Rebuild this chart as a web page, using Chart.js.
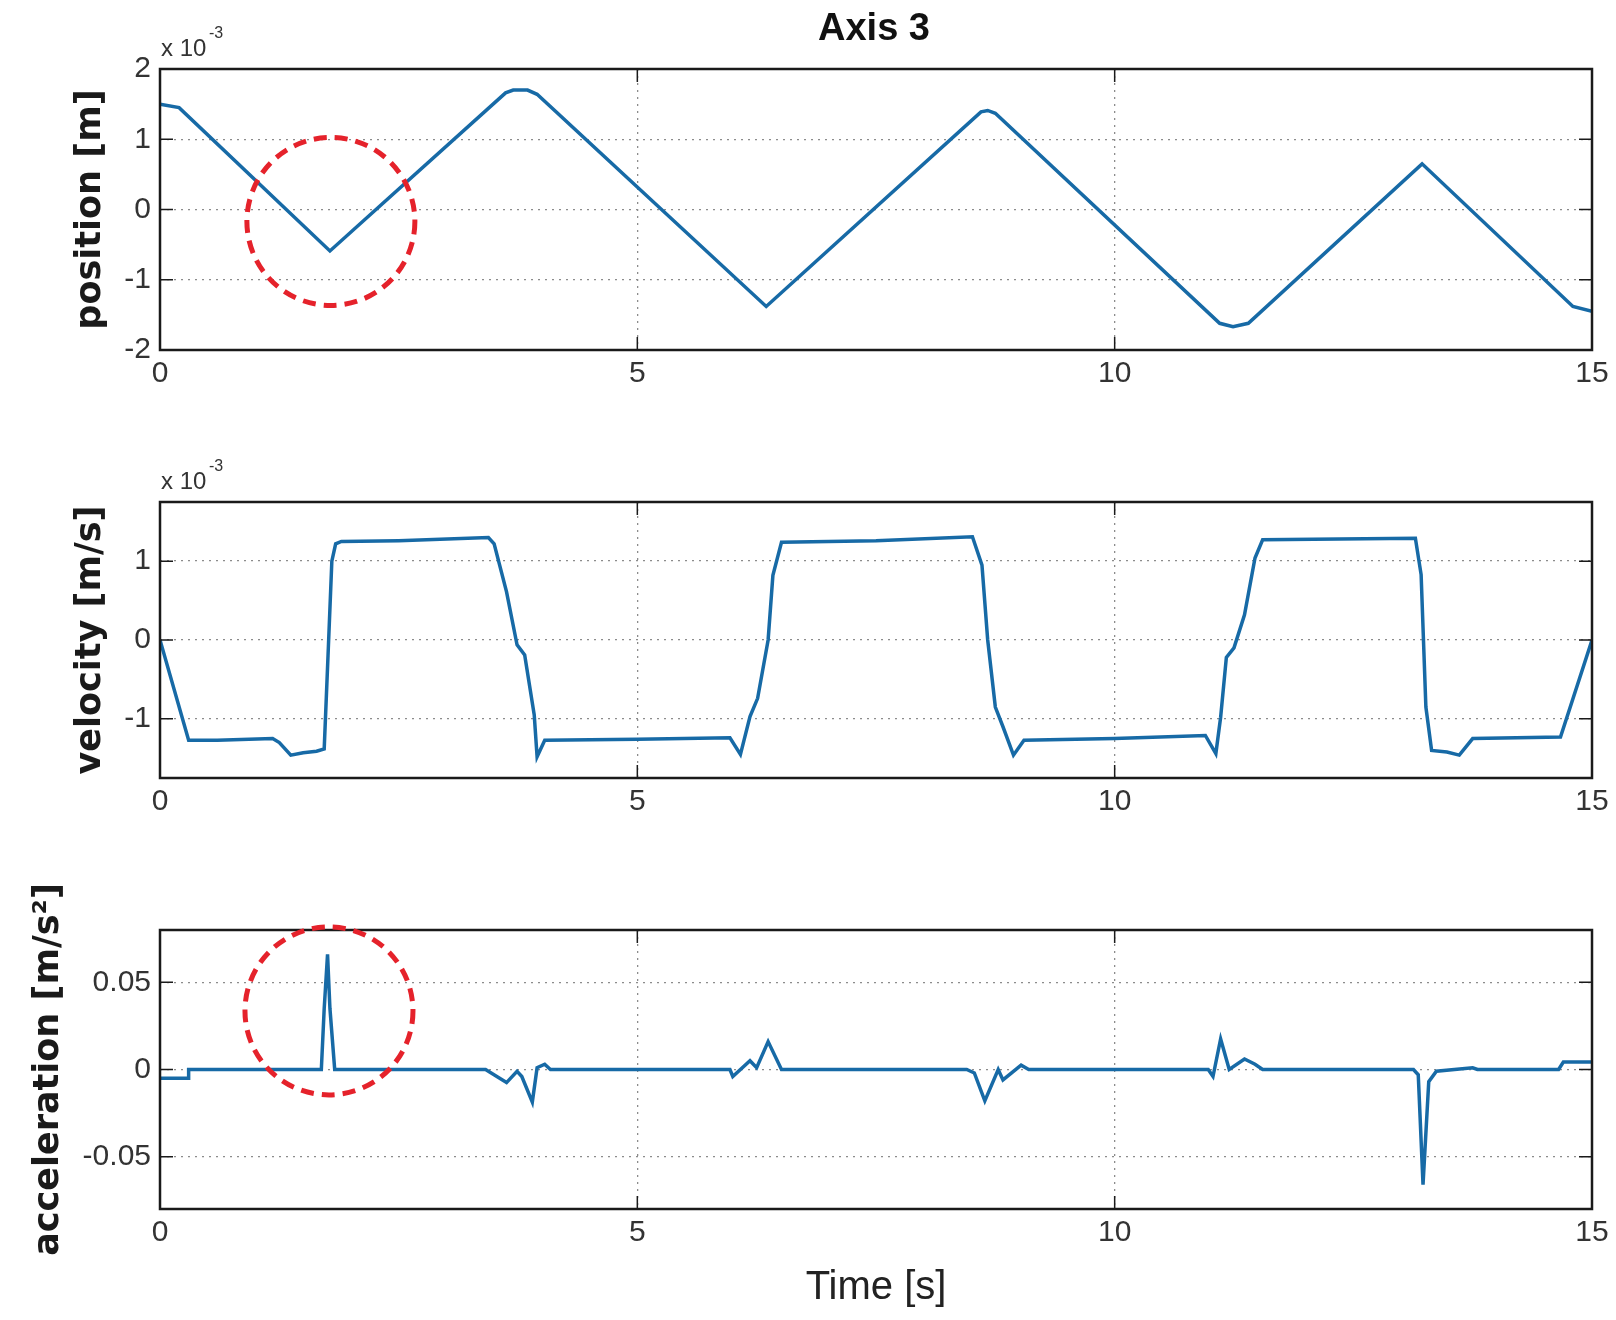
<!DOCTYPE html>
<html>
<head>
<meta charset="utf-8">
<title>Axis 3</title>
<script src="https://cdn.jsdelivr.net/npm/chart.js@4.4.1/dist/chart.umd.min.js"></script>
<style>
  html, body { margin: 0; padding: 0; background: #fff; }
  #wrap { position: relative; width: 1616px; height: 1320px; overflow: hidden; }
  #wrap canvas { position: absolute; left: 0; }
</style>
</head>
<body>
<div id="wrap">
  <canvas id="posChart" width="1616" height="400" style="top:0px"></canvas>
  <canvas id="velChart" width="1616" height="400" style="top:420px"></canvas>
  <canvas id="accChart" width="1616" height="480" style="top:840px"></canvas>
</div>
<script>
// tiempos y valores (posicion y velocidad en unidades x 10^-3)
const xTicks = [0, 5, 10, 15];

const posTime = [0, 0.2, 1.78, 3.62, 3.7, 3.85, 3.95, 6.35, 8.6, 8.67, 8.75, 11.1, 11.24, 11.4, 13.22, 14.8, 15];
const posValue = [1.5, 1.45, -0.59, 1.66, 1.7, 1.7, 1.64, -1.38, 1.39, 1.41, 1.37, -1.62, -1.67, -1.62, 0.65, -1.38, -1.45];
const posTicks = [-2, -1, 0, 1, 2];

const velTime = [0, 0.3, 0.6, 1.18, 1.25, 1.37, 1.5, 1.64, 1.72, 1.76, 1.8, 1.84, 1.9, 2.5, 3.44, 3.5, 3.63, 3.74, 3.82, 3.92, 3.95, 4.03, 5.0, 5.97, 6.08, 6.18, 6.26, 6.37, 6.42, 6.51, 7.5, 8.51, 8.61, 8.67, 8.75, 8.83, 8.94, 9.05, 10.0, 10.95, 11.06, 11.11, 11.17, 11.25, 11.36, 11.47, 11.55, 13.15, 13.21, 13.26, 13.32, 13.48, 13.61, 13.75, 14.67, 15];
const velValue = [0, -1.27, -1.27, -1.25, -1.3, -1.46, -1.43, -1.41, -1.38, -0.2, 1.0, 1.22, 1.25, 1.26, 1.3, 1.22, 0.61, -0.06, -0.19, -0.95, -1.48, -1.27, -1.26, -1.24, -1.45, -0.97, -0.74, 0, 0.82, 1.24, 1.26, 1.31, 0.95, 0, -0.85, -1.1, -1.46, -1.27, -1.25, -1.21, -1.44, -0.98, -0.22, -0.1, 0.32, 1.04, 1.27, 1.29, 0.83, -0.85, -1.4, -1.42, -1.46, -1.25, -1.23, 0];
const velTicks = [-1, 0, 1];

const accTime = [0, 0.3, 0.3, 1.69, 1.72, 1.755, 1.78, 1.83, 3.41, 3.63, 3.74, 3.79, 3.9, 3.95, 4.03, 4.09, 5.97, 6.0, 6.18, 6.25, 6.37, 6.51, 8.45, 8.53, 8.64, 8.78, 8.83, 9.02, 9.1, 10.98, 11.03, 11.11, 11.2, 11.36, 11.47, 11.55, 13.13, 13.18, 13.23, 13.29, 13.37, 13.75, 13.8, 14.65, 14.7, 15];
const accValue = [-0.005, -0.005, 0, 0, 0.035, 0.066, 0.035, 0, 0, -0.0075, -0.001, -0.004, -0.0187, 0.001, 0.003, 0, 0, -0.004, 0.005, 0.001, 0.016, 0, 0, -0.002, -0.018, 0, -0.006, 0.0025, 0, 0, -0.004, 0.0175, 0, 0.006, 0.003, 0, 0, -0.003, -0.066, -0.007, -0.001, 0.001, 0, 0, 0.0043, 0.0043];
const accTicks = [-0.05, 0, 0.05];

// circulos rojos marcados sobre la figura (centro en unidades de datos)
const posCircles = [{ x: 1.79, y: -0.17 }];
const accCircles = [{ x: 1.77, y: 0.0336 }];

const lineColor = "#176aa6";
const tickFont = "'Liberation Sans Narrow', 'Arial Narrow', 'Liberation Sans', sans-serif";
const labelFont = "'DejaVu Sans', sans-serif";

// Dibuja el marco, las marcas internas, el titulo, el exponente y los circulos
const matlabAxes = {
    id: "matlabAxes",
    afterDraw(chart, args, opts) {
        const { ctx, chartArea: a, scales } = chart;
        ctx.save();
        ctx.setLineDash([]);
        ctx.strokeStyle = "#1a1a1a";
        ctx.lineWidth = 1.5;
        const tick = 13;
        scales.x.ticks.forEach(t => {
            const px = scales.x.getPixelForValue(t.value);
            ctx.beginPath();
            ctx.moveTo(px, a.bottom); ctx.lineTo(px, a.bottom - tick);
            ctx.moveTo(px, a.top); ctx.lineTo(px, a.top + tick);
            ctx.stroke();
        });
        scales.y.ticks.forEach(t => {
            const py = scales.y.getPixelForValue(t.value);
            ctx.beginPath();
            ctx.moveTo(a.left, py); ctx.lineTo(a.left + tick, py);
            ctx.moveTo(a.right, py); ctx.lineTo(a.right - tick, py);
            ctx.stroke();
        });
        ctx.lineWidth = 2.5;
        ctx.strokeRect(a.left, a.top, a.right - a.left, a.bottom - a.top);

        ctx.fillStyle = "#333";
        if (opts.exponent) {
            ctx.textBaseline = "alphabetic";
            ctx.textAlign = "left";
            ctx.font = "24px " + tickFont;
            ctx.fillText("x 10", a.left + 1, a.top - 13);
            ctx.font = "16px " + tickFont;
            ctx.fillText(opts.exponent, a.left + 49, a.top - 31);
        }
        if (opts.title) {
            ctx.fillStyle = "#111";
            ctx.textAlign = "center";
            ctx.textBaseline = "middle";
            ctx.font = "bold 38px 'Liberation Sans', Arial, sans-serif";
            ctx.fillText(opts.title, (a.left + a.right) / 2 - 2, 30);
        }
        (opts.circles || []).forEach(c => {
            const cx = scales.x.getPixelForValue(c.x);
            const cy = scales.y.getPixelForValue(c.y);
            ctx.beginPath();
            ctx.strokeStyle = "#e5222b";
            ctx.lineWidth = 5;
            ctx.setLineDash([13, 8]);
            ctx.ellipse(cx, cy, 84, 84, 0, 0, Math.PI * 2);
            ctx.stroke();
        });
        ctx.restore();
    },
};

function makeAxes(id, cfg) {
    const data = cfg.time.map((t, i) => ({ x: t, y: cfg.values[i] }));
    const gridColor = c => {
        const v = c.tick ? c.tick.value : null;
        return (v === c.scale.min || v === c.scale.max) ? "rgba(0,0,0,0)" : "#8c8c8c";
    };
    return new Chart(document.getElementById(id), {
        type: "line",
        data: {
            datasets: [{
                data: data,
                borderColor: lineColor,
                borderWidth: 3.5,
                pointRadius: 0,
                tension: 0,
                fill: false,
            }],
        },
        options: {
            responsive: false,
            maintainAspectRatio: false,
            animation: false,
            events: [],
            layout: { padding: { top: cfg.padTop, right: 24, left: 0, bottom: 0 } },
            plugins: {
                legend: { display: false },
                tooltip: { enabled: false },
                matlabAxes: { title: cfg.title, exponent: cfg.exponent, circles: cfg.circles },
            },
            scales: {
                x: {
                    type: "linear",
                    min: 0,
                    max: 15,
                    afterBuildTicks: s => { s.ticks = xTicks.map(v => ({ value: v })); },
                    afterFit: s => { s.height = cfg.xAxisHeight; },
                    grid: { color: gridColor, lineWidth: 1.3, drawTicks: false },
                    border: { display: false, dash: [2, 5] },
                    ticks: {
                        color: "#333",
                        padding: 6,
                        maxRotation: 0,
                        font: { family: tickFont, size: 30 },
                        callback: v => String(v),
                    },
                    title: cfg.xTitle ? {
                        display: true,
                        text: cfg.xTitle,
                        color: "#222",
                        font: { family: "'Liberation Sans', Arial, sans-serif", size: 40 },
                        padding: { top: 0, bottom: 8 },
                    } : { display: false },
                },
                y: {
                    min: cfg.min,
                    max: cfg.max,
                    afterBuildTicks: s => { s.ticks = cfg.ticks.map(v => ({ value: v })); },
                    afterFit: s => { s.width = 160; },
                    grid: { color: gridColor, lineWidth: 1.3, drawTicks: false },
                    border: { display: false, dash: [2, 5] },
                    ticks: {
                        color: "#333",
                        padding: 9,
                        font: { family: tickFont, size: 30 },
                        callback: v => String(v),
                    },
                    title: {
                        display: true,
                        text: cfg.yTitle,
                        color: "#1a1a1a",
                        font: { family: labelFont, size: 35, weight: "bold" },
                        padding: { top: cfg.yTitlePad, bottom: 0 },
                    },
                },
            },
        },
        plugins: [matlabAxes],
    });
}

makeAxes("posChart", {
    time: posTime, values: posValue, ticks: posTicks, min: -2, max: 2,
    padTop: 69, xAxisHeight: 50, yTitle: "position [m]", yTitlePad: 70,
    title: "Axis 3", exponent: "-3", circles: posCircles,
});

makeAxes("velChart", {
    time: velTime, values: velValue, ticks: velTicks, min: -1.75, max: 1.75,
    padTop: 82, xAxisHeight: 42, yTitle: "velocity [m/s]", yTitlePad: 70,
    exponent: "-3",
});

makeAxes("accChart", {
    time: accTime, values: accValue, ticks: accTicks, min: -0.08, max: 0.08,
    padTop: 90, xAxisHeight: 111, yTitle: "acceleration [m/s²]", yTitlePad: 28,
    xTitle: "Time [s]", circles: accCircles,
});
</script>
</body>
</html>
